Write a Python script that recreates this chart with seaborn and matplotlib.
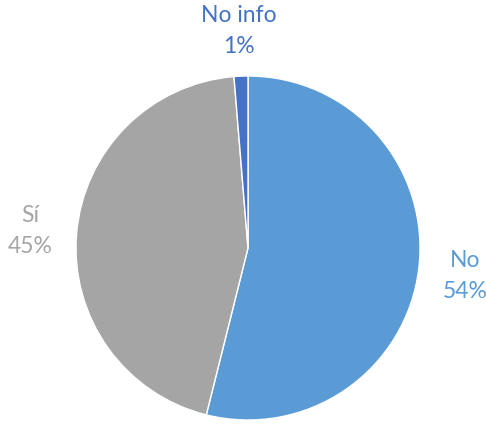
import matplotlib
matplotlib.use("Agg")
import matplotlib.pyplot as plt
import seaborn as sns

categories = ["No", "Sí", "No info"]
shares = [53.9, 44.8, 1.3]
pct_labels = ["54%", "45%", "1%"]
colors = ["#5B9BD5", "#A5A5A5", "#4472C4"]

sns.set_theme(style="white")
plt.rcParams["font.family"] = ["Lato", "DejaVu Sans"]

fig = plt.figure(figsize=(4.86, 4.27), dpi=100)
ax = fig.add_axes([(248 - 172) / 486, (427 - 249 - 172) / 427, 344 / 486, 344 / 427])

labels = [f"{c}\n{p}" for c, p in zip(categories, pct_labels)]
wedges, texts = ax.pie(
    shares, labels=labels, colors=colors, startangle=90, counterclock=False,
    labeldistance=1.27, wedgeprops=dict(edgecolor="white", linewidth=1),
)
for t, c in zip(texts, colors):
    t.set_ha("center")
    t.set_va("center")
    t.set_color(c)
    t.set_fontsize(16.5)
    t.set_linespacing(1.6)

ax.set_xlim(-1, 1)
ax.set_ylim(-1, 1)
ax.set_aspect("equal")

fig.savefig("out.png", dpi=100)
plt.close(fig)
